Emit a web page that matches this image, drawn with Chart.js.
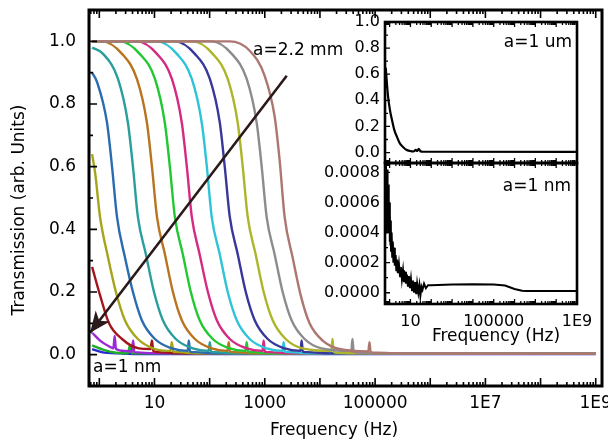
<!DOCTYPE html>
<html>
<head>
<meta charset="utf-8">
<script src="https://cdn.jsdelivr.net/npm/chart.js@4.4.1/dist/chart.umd.min.js"></script>
<style>
html, body { margin: 0; padding: 0; background: #fff; }
#wrap { position: relative; width: 608px; height: 445px; }
#wrap canvas { position: absolute; left: 0; top: 0; }
</style>
</head>
<body>
<div id="wrap">
  <canvas id="main" width="608" height="445"></canvas>
  <canvas id="insetUm" width="608" height="445"></canvas>
  <canvas id="insetNm" width="608" height="445"></canvas>
</div>
<script>
// transmission traces, [frequency Hz, transmission], smallest aperture first
var tBlueSmall  = [[0.74,0.018],[1.1,0.008],[2.5,0.004],[6,0.002],[1e9,0.002]];
var tGreenSmall = [[0.74,0.03],[1.2,0.015],[2.0,0.006],[3.3,0.004],[3.6,0.03],[3.9,0.004],[1e9,0.003]];
var tViolet  = [[0.74,0.07],[1.03,0.045],[1.56,0.025],[1.8,0.02],[1.9,0.06],[2.0,0.018],[2.9,0.012],[3.9,0.01],[4.1,0.045],[4.3,0.008],[20,0.004],[1e9,0.003]];
var tRed     = [[0.74,0.28],[1.03,0.19],[1.5,0.10],[2.58,0.05],[5.2,0.02],[8.5,0.018],[9.0,0.045],[9.5,0.012],[12,0.008],[34,0.004],[1e9,0.003]];
var tOlive   = [[0.74,0.64],[0.84,0.58],[1.03,0.44],[1.44,0.31],[2.0,0.20],[2.91,0.11],[5.0,0.05],[10.2,0.018],[19.5,0.012],[20.6,0.04],[22,0.01],[26.5,0.008],[66,0.004],[1e9,0.003]];
var tBlue    = [[0.74,0.90],[0.91,0.87],[1.38,0.74],[1.70,0.60],[2.09,0.44],[2.92,0.31],[4.07,0.20],[5.9,0.11],[10.2,0.05],[20.7,0.02],[40,0.012],[42,0.045],[44,0.01],[54,0.008],[135,0.004],[1e9,0.003]];
var tTeal    = [[0.74,0.98],[1.17,0.96],[2.18,0.88],[3.3,0.74],[4.07,0.60],[5.0,0.44],[7.0,0.32],[9.8,0.20],[14.2,0.11],[24.4,0.05],[49.5,0.02],[96,0.012],[101,0.04],[106,0.01],[129,0.008],[324,0.004],[1e9,0.003]];
var tOrange  = [[0.74,1.0],[1.12,1.0],[2.58,0.96],[4.8,0.88],[7.3,0.74],[9.0,0.60],[11.1,0.44],[15.5,0.32],[21.6,0.20],[31.3,0.11],[54,0.05],[109,0.02],[211,0.012],[222,0.04],[233,0.01],[285,0.008],[714,0.004],[1e9,0.003]];
var tGreen   = [[0.74,1.0],[2.37,1.0],[5.4,0.96],[10.2,0.88],[15.4,0.74],[19,0.60],[23.4,0.44],[32.7,0.32],[45.6,0.20],[66,0.11],[114,0.05],[231,0.02],[447,0.012],[470,0.04],[494,0.01],[602,0.008],[1510,0.004],[1e9,0.003]];
var tMagenta = [[0.74,1.0],[4.8,1.0],[11.1,0.96],[20.7,0.88],[31.3,0.74],[38.6,0.60],[47.5,0.44],[66,0.32],[93,0.20],[135,0.11],[232,0.05],[470,0.02],[910,0.012],[955,0.045],[1000,0.01],[1220,0.008],[3070,0.004],[1e9,0.003]];
var tCyan    = [[0.74,1.0],[11.1,1.0],[25.5,0.96],[47.5,0.88],[72,0.74],[89,0.60],[109,0.44],[153,0.32],[213,0.20],[310,0.11],[533,0.05],[1080,0.02],[2100,0.012],[2200,0.04],[2310,0.01],[2820,0.008],[7060,0.004],[1e9,0.003]];
var tNavy    = [[0.74,1.0],[23.4,1.0],[54,0.96],[101,0.88],[153,0.74],[188,0.60],[232,0.44],[324,0.32],[452,0.20],[656,0.11],[1130,0.05],[2290,0.02],[4440,0.012],[4660,0.045],[4890,0.01],[5970,0.008],[15000,0.004],[1e9,0.003]];
var tLime    = [[0.74,1.0],[49.5,1.0],[114,0.96],[213,0.88],[323,0.74],[398,0.60],[490,0.44],[684,0.32],[955,0.20],[1390,0.11],[2390,0.05],[4840,0.02],[16100,0.012],[16900,0.05],[17700,0.01],[20800,0.006],[47900,0.004],[1e9,0.003]];
var tGray    = [[0.74,1.0],[109,1.0],[252,0.96],[470,0.88],[713,0.74],[879,0.60],[1080,0.44],[1510,0.32],[2110,0.20],[3060,0.11],[5270,0.05],[10700,0.02],[37000,0.012],[38900,0.05],[40800,0.01],[50000,0.006],[106000,0.004],[1e9,0.003]];
var tRose    = [[0.74,1.0],[232,1.0],[533,0.97],[995,0.89],[1510,0.76],[1860,0.62],[2290,0.44],[3200,0.31],[4470,0.19],[6490,0.10],[11200,0.045],[22600,0.018],[75300,0.01],[79100,0.04],[83000,0.008],[106000,0.006],[340000,0.004],[1e9,0.003]];

var traces = [tBlueSmall, tGreenSmall, tViolet, tRed, tOlive, tBlue, tTeal, tOrange, tGreen, tMagenta, tCyan, tNavy, tLime, tGray, tRose];
var traceColors = ['#2a2ad0', '#1fae2a', '#9b27d6', '#a3151b', '#a5a51c', '#2b6cb0', '#2a9d9d', '#b8741f', '#22c832', '#d42a84', '#2fc3d8', '#38389a', '#adb52a', '#8c8c8c', '#ad7771'];

// arrow from a=2.2 mm down to a=1 nm
var arrowPath = [[2500, 0.89], [0.68, 0.07]];

// inset traces
var umTrace = [[0.65,0.65],[0.75,0.52],[0.84,0.43],[1.05,0.32],[1.3,0.25],[1.7,0.17],[2.26,0.12],[3.1,0.07],[4.4,0.043],[6.3,0.022],[9.5,0.012],[14,0.008],[18,0.02],[21,0.012],[25,0.028],[30,0.01],[40,0.006],[1e9,0.005]];
var nmTrace = [[0.65,0.00062],[0.67,0.00086],[0.69,0.00040],[0.71,0.00080],[0.73,0.00046],[0.75,0.00078],[0.77,0.00050],[0.80,0.00082],[0.82,0.00044],[0.84,0.00072],[0.88,0.00040],[0.91,0.00066],[0.93,0.00040],[0.98,0.00060],[1.01,0.00034],[1.04,0.00052],[1.10,0.00032],[1.14,0.00048],[1.17,0.00028],[1.25,0.00040],[1.33,0.00024],[1.42,0.00034],[1.52,0.00020],[1.63,0.00030],[1.78,0.00018],[1.95,0.00025],[2.1,0.00015],[2.26,0.00022],[2.5,0.00013],[2.8,0.00019],[3.16,0.00011],[3.5,0.00017],[3.9,0.00009],[4.4,0.00015],[4.9,0.00007],[5.5,0.00014],[6.1,0.00006],[6.8,0.00012],[7.6,0.00004],[8.5,0.00011],[9.5,0.00003],[10.6,0.00009],[12,0.00001],[13.3,0.00008],[15,0.00000],[17,0.00007],[19,-0.00001],[21,0.00006],[24,0.00000],[27,0.00005],[30,-0.00002],[34,0.00004],[38,0.00002],[45,0.00006],[55,0.00003],[70,0.00005],[100,0.00005],[1000,0.000055],[10000,0.000057],[100000,0.000055],[350000,0.000048],[1.0e6,0.000025],[2.3e6,0.000013],[4e6,0.000011],[1e9,0.000011]];

var xTicks = [10, 1e3, 1e5, 1e7, 1e9];
var xTickLabels = ['10', '1000', '100000', '1E7', '1E9'];
var yTicks = [0, 0.2, 0.4, 0.6, 0.8, 1.0];
var insetXTicks = [10, 1e5, 1e9];
var insetXTickLabels = ['10', '100000', '1E9'];
var umYTicks = [0, 0.2, 0.4, 0.6, 0.8, 1.0];
var nmYTicks = [0, 0.0002, 0.0004, 0.0006, 0.0008];

var FONT = 'DejaVu Sans';

function decades(lo, hi) {
    var out = [];
    for (var e = lo; e <= hi; e++) out.push(Math.pow(10, e));
    return out;
}

function subDecades(lo, hi) {
    var out = [];
    for (var e = lo; e <= hi; e++)
        for (var k = 2; k < 10; k++) out.push(k * Math.pow(10, e));
    return out;
}

function halves(list) {
    var out = [];
    for (var i = 0; i < list.length - 1; i++) out.push((list[i] + list[i + 1]) / 2);
    return out;
}

// box around the plot area with inward tick marks
var framePlugin = {
    id: 'frame',
    afterDraw: function(chart, args, o) {
        if (!o || !o.lineWidth) return;
        var a = chart.chartArea, ctx = chart.ctx, xs = chart.scales.x, ys = chart.scales.y;
        ctx.save();
        ctx.strokeStyle = '#000';
        ctx.lineWidth = o.tickWidth;
        ctx.beginPath();
        function xt(list, len) {
            list.forEach(function(v) {
                var px = xs.getPixelForValue(v);
                if (px < a.left + 1 || px > a.right - 1) return;
                ctx.moveTo(px, a.bottom); ctx.lineTo(px, a.bottom - len);
                ctx.moveTo(px, a.top); ctx.lineTo(px, a.top + len);
            });
        }
        function yt(list, len) {
            list.forEach(function(v) {
                var py = ys.getPixelForValue(v);
                if (py < a.top + 1 || py > a.bottom - 1) return;
                ctx.moveTo(a.left, py); ctx.lineTo(a.left + len, py);
            });
        }
        xt(o.xMajor, o.majorLen);
        xt(o.xMinor, o.minorLen);
        yt(o.yMajor, o.majorLen);
        yt(o.yMinor, o.minorLen);
        ctx.stroke();
        ctx.lineWidth = o.lineWidth;
        ctx.strokeRect(a.left, a.top, a.right - a.left, a.bottom - a.top);
        ctx.restore();
    }
};

// free text: panel labels and axis titles
var notesPlugin = {
    id: 'notes',
    afterDraw: function(chart, args, o) {
        var ctx = chart.ctx;
        (o.items || []).forEach(function(t) {
            ctx.save();
            ctx.font = t.size + 'px "' + FONT + '"';
            ctx.fillStyle = '#000';
            ctx.textAlign = t.align || 'left';
            ctx.textBaseline = 'middle';
            ctx.translate(t.x, t.y);
            if (t.rot) ctx.rotate(t.rot);
            ctx.fillText(t.text, 0, 0);
            ctx.restore();
        });
    }
};

// filled head on the end of any dataset flagged with arrowHead
var arrowPlugin = {
    id: 'arrowHead',
    afterDatasetsDraw: function(chart) {
        var ctx = chart.ctx;
        chart.data.datasets.forEach(function(ds, i) {
            if (!ds.arrowHead) return;
            var pts = chart.getDatasetMeta(i).data;
            var p0 = pts[pts.length - 2], p1 = pts[pts.length - 1];
            var ang = Math.atan2(p1.y - p0.y, p1.x - p0.x);
            var len = 21, half = 9;
            ctx.save();
            ctx.fillStyle = ds.borderColor;
            ctx.translate(p1.x, p1.y);
            ctx.rotate(ang);
            ctx.beginPath();
            ctx.moveTo(0, 0);
            ctx.lineTo(-len, -half);
            ctx.lineTo(-len * 0.72, 0);
            ctx.lineTo(-len, half);
            ctx.closePath();
            ctx.fill();
            ctx.restore();
        });
    }
};

Chart.register(framePlugin, notesPlugin, arrowPlugin);

function tickFont(size) {
    return { family: FONT, size: size };
}

function noPad(s) {
    s.paddingLeft = 0; s.paddingRight = 0; s.paddingTop = 0; s.paddingBottom = 0;
}

var hiddenGrid = { display: false, drawTicks: false };

// later traces sit on top, so a=2.2 mm ends up over the rest along the baseline
var mainSets = traces.map(function(t, i) {
    return { data: t, borderColor: traceColors[i], borderWidth: 2.4, cubicInterpolationMode: 'monotone', order: traces.length - i };
});
mainSets.push({ data: arrowPath, borderColor: '#2b1a1a', borderWidth: 2.6, tension: 0, arrowHead: true, order: 0 });

new Chart(document.getElementById('main'), {
    type: 'line',
    data: { datasets: mainSets },
    options: {
        responsive: false,
        animation: false,
        events: [],
        layout: { padding: { left: 0, top: 10, right: 6, bottom: 0 } },
        elements: { point: { radius: 0 } },
        plugins: {
            legend: { display: false },
            tooltip: { enabled: false },
            frame: {
                lineWidth: 3, tickWidth: 1.6, majorLen: 8, minorLen: 4,
                xMajor: decades(0, 9), xMinor: subDecades(-1, 9),
                yMajor: yTicks, yMinor: halves(yTicks)
            },
            notes: {
                items: [
                    { text: 'a=2.2 mm', x: 253, y: 51, size: 17 },
                    { text: 'a=1 nm', x: 93, y: 368, size: 17 },
                    { text: 'Frequency (Hz)', x: 334, y: 431, size: 17, align: 'center' },
                    { text: 'Transmission (arb. Units)', x: 20, y: 210, size: 17, align: 'center', rot: -Math.PI / 2 }
                ]
            }
        },
        scales: {
            x: {
                type: 'logarithmic', min: 0.65, max: 1.3e9,
                grid: hiddenGrid, border: { display: false },
                afterBuildTicks: function(s) { s.ticks = xTicks.map(function(v) { return { value: v }; }); },
                afterFit: function(s) { s.height = 59; noPad(s); },
                ticks: {
                    font: tickFont(17), color: '#000', padding: 7, maxRotation: 0, autoSkip: false,
                    callback: function(v, i) { return xTickLabels[i]; }
                }
            },
            y: {
                min: -0.1, max: 1.1,
                grid: hiddenGrid, border: { display: false },
                afterBuildTicks: function(s) { s.ticks = yTicks.map(function(v) { return { value: v }; }); },
                afterFit: function(s) { s.width = 89; noPad(s); },
                ticks: {
                    font: tickFont(17), color: '#000', padding: 13,
                    callback: function(v) { return Number(v).toFixed(1); }
                }
            }
        }
    }
});

// inset, upper panel: a=1 um
new Chart(document.getElementById('insetUm'), {
    type: 'line',
    data: { datasets: [{ data: umTrace, borderColor: '#000', borderWidth: 2.2, cubicInterpolationMode: 'monotone' }] },
    options: {
        responsive: false,
        animation: false,
        events: [],
        layout: { padding: { left: 0, top: 22, right: 31, bottom: 282 } },
        elements: { point: { radius: 0 } },
        plugins: {
            legend: { display: false },
            tooltip: { enabled: false },
            frame: {
                lineWidth: 2.6, tickWidth: 1.3, majorLen: 5, minorLen: 3,
                xMajor: decades(0, 9), xMinor: subDecades(-1, 8),
                yMajor: umYTicks, yMinor: halves(umYTicks)
            },
            notes: { items: [{ text: 'a=1 um', x: 572, y: 43, size: 17, align: 'right' }] }
        },
        scales: {
            x: {
                type: 'logarithmic', min: 0.6, max: 1e9,
                grid: hiddenGrid, border: { display: false },
                ticks: { display: false },
                afterFit: function(s) { s.height = 0; noPad(s); }
            },
            y: {
                min: -0.08, max: 1.0,
                grid: hiddenGrid, border: { display: false },
                afterBuildTicks: function(s) { s.ticks = umYTicks.map(function(v) { return { value: v }; }); },
                afterFit: function(s) { s.width = 385; noPad(s); },
                ticks: {
                    font: tickFont(16), color: '#000', padding: 5,
                    callback: function(v) { return Number(v).toFixed(1); }
                }
            }
        }
    }
});

// inset, lower panel: a=1 nm
new Chart(document.getElementById('insetNm'), {
    type: 'line',
    data: { datasets: [{ data: nmTrace, borderColor: '#000', borderWidth: 2.0, tension: 0 }] },
    options: {
        responsive: false,
        animation: false,
        events: [],
        layout: { padding: { left: 0, top: 163, right: 31, bottom: 0 } },
        elements: { point: { radius: 0 } },
        plugins: {
            legend: { display: false },
            tooltip: { enabled: false },
            frame: {
                lineWidth: 2.6, tickWidth: 1.3, majorLen: 5, minorLen: 3,
                xMajor: decades(0, 9), xMinor: subDecades(-1, 8),
                yMajor: nmYTicks, yMinor: halves(nmYTicks)
            },
            notes: {
                items: [
                    { text: 'a=1 nm', x: 571, y: 187, size: 17, align: 'right' },
                    { text: 'Frequency (Hz)', x: 496, y: 337, size: 17, align: 'center' }
                ]
            }
        },
        scales: {
            x: {
                type: 'logarithmic', min: 0.6, max: 1e9,
                grid: hiddenGrid, border: { display: false },
                afterBuildTicks: function(s) { s.ticks = insetXTicks.map(function(v) { return { value: v }; }); },
                afterFit: function(s) { s.height = 141; noPad(s); },
                ticks: {
                    font: tickFont(16), color: '#000', padding: 8, maxRotation: 0, autoSkip: false,
                    callback: function(v, i) { return insetXTickLabels[i]; }
                }
            },
            y: {
                min: -0.000075, max: 0.000863,
                grid: hiddenGrid, border: { display: false },
                afterBuildTicks: function(s) { s.ticks = nmYTicks.map(function(v) { return { value: v }; }); },
                afterFit: function(s) { s.width = 385; noPad(s); },
                ticks: {
                    font: tickFont(16), color: '#000', padding: 5,
                    callback: function(v) { return Number(v).toFixed(4); }
                }
            }
        }
    }
});
</script>
</body>
</html>
